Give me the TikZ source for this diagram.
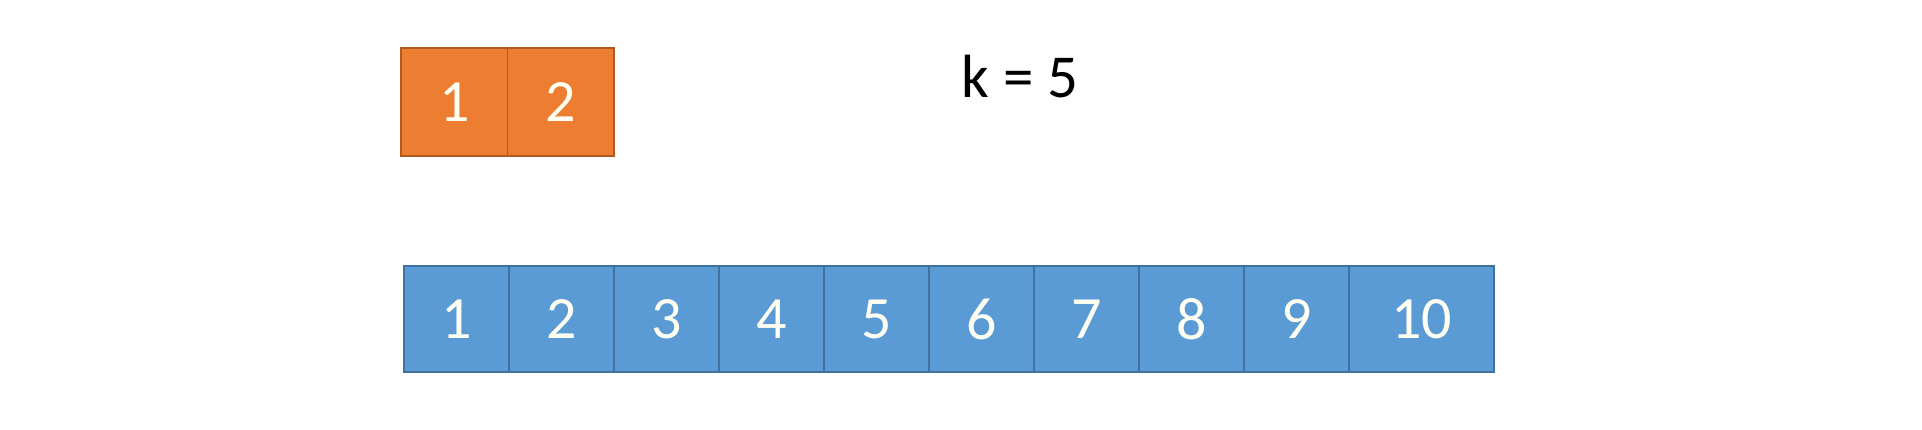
\documentclass[tikz,border=0pt]{standalone}
\usepackage{fontspec}
\setmainfont{Carlito}
\usetikzlibrary{positioning}
\definecolor{cellorange}{HTML}{ED7D31}
\definecolor{cellorangeline}{HTML}{AE5A21}
\definecolor{cellblue}{HTML}{5B9BD5}
\definecolor{cellblueline}{HTML}{41719C}
\begin{document}
\begin{tikzpicture}[x=1pt, y=-1pt,
		cell/.style={draw, line width=1.3pt, inner sep=0pt, outer sep=0pt,
			minimum height=106pt, minimum width=105pt, text=white!95!yellow,
			font=\fontsize{60}{64}\selectfont},
		ocell/.style={cell, fill=cellorange, draw=cellorangeline, minimum height=108pt, minimum width=106.5pt},
		bcell/.style={cell, fill=cellblue, draw=cellblueline}]
		\useasboundingbox (0, 0) rectangle (1922, 430);
		% window
		\node[ocell, anchor=west] (o1) at (401, 102) {1};
		\node[ocell, right=0pt of o1] (o2) {2};
		\node[anchor=base, font=\fontsize{61}{64}\selectfont] (k) at (1020, 98) {k = 5};
		% array
		\node[bcell, anchor=west] (b1) at (404, 319) {1};
		\foreach \i [count=\j from 1] in {2,...,9}
			\node[bcell, right=0pt of b\j] (b\i) {\i};
		\node[bcell, right=0pt of b9, minimum width=145pt] (b10) {10};
	\end{tikzpicture}
\end{document}
